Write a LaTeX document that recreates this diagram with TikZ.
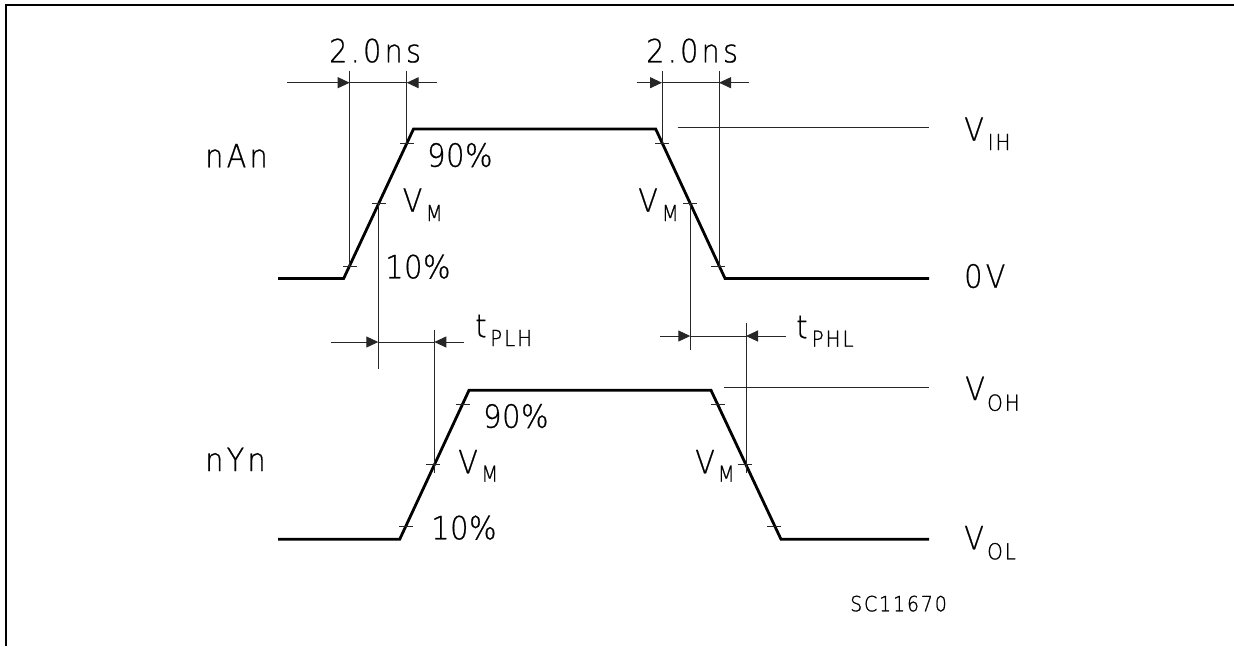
\documentclass[tikz,border=0pt]{standalone}
\usepackage{fontspec}
\setmainfont{DejaVu Sans ExtraLight}
\newfontfamily\cadfont[LetterSpace=10,FakeStretch=0.9,FakeBold=0.6]{DejaVu Sans ExtraLight}
\newfontfamily\cadpct[LetterSpace=2,FakeStretch=0.9,FakeBold=0.6]{DejaVu Sans ExtraLight}
\newfontfamily\cadsub[LetterSpace=9,FakeStretch=0.9,FakeBold=1]{DejaVu Sans ExtraLight}
\usetikzlibrary{arrows.meta}
\tikzset{
 wave/.style={line width=2.8pt,line join=miter},
 thinln/.style={line width=1pt,black!85},
 frameln/.style={line width=2pt},
 dimln/.style={line width=1pt,black!85},
 tipin/.style={-{Triangle[length=12pt,width=11pt]}},
 mainlab/.style={anchor=base west,inner sep=0pt,font=\fontsize{32}{32}\selectfont\cadfont},
 pctlab/.style={anchor=base west,inner sep=0pt,font=\fontsize{32}{32}\selectfont\cadpct},
 sublab/.style={anchor=base west,inner sep=0pt,font=\fontsize{22}{22}\selectfont\cadsub},
 reflab/.style={anchor=base west,inner sep=0pt,font=\fontsize{21}{21}\selectfont\cadsub},
}
\begin{document}
\begin{tikzpicture}[x=1pt,y=-1pt]
\useasboundingbox (0,0) rectangle (1234,646);
% frame
\coordinate (fa) at (6,646); \coordinate (fb) at (6,5); \coordinate (fc) at (1234,5);
\draw[frameln] (fa) -- (fb) -- (fc);
% waves
\draw[wave] (278,278.4) coordinate (w1a) -- (343.7,278.4) coordinate (w1b) -- (413.5,129) coordinate (w1c) -- (655.7,129) coordinate (w1d) -- (725,278.4) coordinate (w1e) -- (929,278.4) coordinate (w1f);
\draw[wave] (278,539.3) coordinate (w2a) -- (399.7,539.3) coordinate (w2b) -- (469,390.3) coordinate (w2c) -- (711,390.3) coordinate (w2d) -- (781,539.3) coordinate (w2e) -- (929,539.3) coordinate (w2f);
% ticks
\foreach \tx/\ty in {407/143.7,378.7/203.7,350/266,662.3/143.7,690.3/203.7,718.3/266,
 462.7/404.7,433.3/464.7,406/526.7,717.7/404.7,745/464.7,774.3/526.7}
 \draw[thinln] (\tx-7,\ty) -- (\tx+7,\ty);
% verticals
\draw[thinln] (349.7,70.7) -- (349.7,266);
\draw[thinln] (406.7,70.7) -- (406.7,143.7);
\draw[thinln] (662,71) -- (662,143.7);
\draw[thinln] (719,71) -- (719,266);
\draw[thinln] (378.3,203.7) -- (378.3,369);
\draw[thinln] (434.3,330) -- (434.3,473.3);
\draw[thinln] (690.3,203.7) -- (690.3,350.3);
\draw[thinln] (746,323) -- (746,473.3);
% reference levels
\draw[thinln] (677.7,127.3) -- (929,127.3);
\draw[thinln] (724.3,387.7) -- (929,387.7);
% dimension lines
\draw[dimln] (349.7,82.7) -- (406.7,82.7);
\draw[dimln,tipin] (287.3,82.7) -- (349.7,82.7);
\draw[dimln,tipin] (436.7,82.7) -- (406.7,82.7);
\draw[dimln] (662,82.7) -- (719,82.7);
\draw[dimln,tipin] (636.7,82.7) -- (662,82.7);
\draw[dimln,tipin] (748.7,82.7) -- (719,82.7);
\draw[dimln] (378.3,342) -- (434.3,342);
\draw[dimln,tipin] (330.7,342) -- (378.3,342);
\draw[dimln,tipin] (463.7,342) -- (434.3,342);
\draw[dimln] (690.3,336) -- (746,336);
\draw[dimln,tipin] (660.3,336) -- (690.3,336);
\draw[dimln,tipin] (785.7,336) -- (746,336);
% labels
\node[mainlab] (t1) at (329,62.3) {2.0ns};
\node[mainlab] (t2) at (646,62.3) {2.0ns};
\node[mainlab] (nan) at (205,167.3) {nAn};
\node[mainlab] (nyn) at (205,471) {nYn};
\node[pctlab] (p90a) at (427,166.7) {90\%};
\node[pctlab] (p10a) at (385,278.3) {10\%};
\node[pctlab] (p90b) at (483,427.7) {90\%};
\node[pctlab] (p10b) at (431,539.3) {10\%};
\node[mainlab] (vm1) at (402.5,211.7) {V};
\node[sublab] (vm1s) at (425.5,221) {M};
\node[mainlab] (vm2) at (638,211.7) {V};
\node[sublab] (vm2s) at (661.5,221) {M};
\node[mainlab] (vm3) at (458,473.3) {V};
\node[sublab] (vm3s) at (481,481.7) {M};
\node[mainlab] (vm4) at (695,473.3) {V};
\node[sublab] (vm4s) at (717.5,481.7) {M};
\node[mainlab] (tplh) at (475,337.3) {t};
\node[sublab] (tplhs) at (490,346) {PLH};
\node[mainlab] (tphl) at (796,338.3) {t};
\node[sublab] (tphls) at (811.5,346.7) {PHL};
\node[mainlab] (vih) at (964,140.7) {V};
\node[sublab] (vihs) at (987.5,150) {IH};
\node[mainlab] (ov) at (964,287.7) {0V};
\node[mainlab] (voh) at (965,400) {V};
\node[sublab] (vohs) at (987,410.7) {OH};
\node[mainlab] (vol) at (964,549.3) {V};
\node[sublab] (vols) at (987,559.3) {OL};
\node[reflab] (sc) at (850,611.3) {SC11670};
\end{tikzpicture}
\end{document}
